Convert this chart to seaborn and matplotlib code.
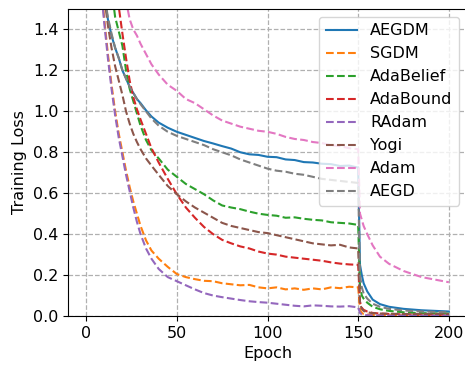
import matplotlib
matplotlib.use("Agg")
import matplotlib.pyplot as plt
import seaborn as sns
import pandas as pd

epochs = [5, 8, 10, 12, 14, 16, 18, 20, 22, 24, 26, 28, 30, 33, 36, 40, 45, 50, 55, 60,
          65, 70, 75, 80, 85, 90, 95, 100, 105, 110, 115, 120, 125, 130, 135, 140, 145, 150,
          151, 152, 153, 155, 158, 162, 167, 175, 185, 200]

aegdm = [2.3, 1.75, 1.56, 1.45, 1.37, 1.31, 1.26, 1.20, 1.16, 1.12, 1.09, 1.06, 1.04, 1.005, 0.975, 0.945, 0.92, 0.90, 0.885, 0.87,
         0.855, 0.843, 0.83, 0.818, 0.80, 0.79, 0.787, 0.778, 0.776, 0.765, 0.762, 0.752, 0.75, 0.744, 0.742, 0.733, 0.735, 0.725,
         0.25, 0.20, 0.16, 0.12, 0.08, 0.058, 0.045, 0.035, 0.028, 0.022]
sgdm = [2.2, 1.65, 1.45, 1.28, 1.13, 1.0, 0.89, 0.80, 0.71, 0.63, 0.56, 0.50, 0.44, 0.37, 0.32, 0.28, 0.24, 0.205, 0.19, 0.18,
        0.172, 0.17, 0.16, 0.155, 0.15, 0.152, 0.14, 0.135, 0.14, 0.13, 0.135, 0.128, 0.135, 0.13, 0.14, 0.136, 0.143, 0.14,
        0.03, 0.015, 0.01, 0.007, 0.005, 0.004, 0.003, 0.003, 0.003, 0.003]
adabelief = [3.0, 2.2, 1.95, 1.78, 1.6, 1.46, 1.39, 1.32, 1.2, 1.11, 1.05, 0.99, 0.93, 0.86, 0.81, 0.77, 0.715, 0.68, 0.645, 0.62,
             0.595, 0.565, 0.54, 0.53, 0.522, 0.51, 0.50, 0.494, 0.49, 0.48, 0.482, 0.475, 0.47, 0.467, 0.458, 0.455, 0.452, 0.445,
             0.15, 0.10, 0.085, 0.065, 0.045, 0.033, 0.025, 0.018, 0.014, 0.012]
adabound = [3.2, 2.4, 2.1, 1.9, 1.75, 1.62, 1.51, 1.38, 1.26, 1.15, 1.07, 1.01, 0.96, 0.89, 0.82, 0.75, 0.67, 0.595, 0.53, 0.48,
            0.435, 0.40, 0.372, 0.355, 0.34, 0.33, 0.315, 0.305, 0.30, 0.29, 0.285, 0.28, 0.275, 0.27, 0.262, 0.256, 0.252, 0.25,
            0.07, 0.04, 0.03, 0.022, 0.015, 0.012, 0.01, 0.008, 0.007, 0.006]
radam = [2.2, 1.62, 1.43, 1.26, 1.11, 0.98, 0.87, 0.78, 0.69, 0.61, 0.53, 0.46, 0.40, 0.33, 0.28, 0.23, 0.19, 0.17, 0.15, 0.13,
         0.112, 0.10, 0.092, 0.085, 0.078, 0.072, 0.068, 0.065, 0.06, 0.055, 0.05, 0.047, 0.052, 0.05, 0.047, 0.046, 0.048, 0.042,
         0.015, 0.008, 0.006, 0.004, 0.003, 0.003, 0.002, 0.002, 0.002, 0.002]
yogi = [2.2, 1.72, 1.56, 1.42, 1.31, 1.22, 1.15, 1.08, 1.0, 0.94, 0.89, 0.85, 0.815, 0.77, 0.735, 0.69, 0.635, 0.595, 0.56, 0.53,
        0.505, 0.48, 0.455, 0.44, 0.43, 0.42, 0.41, 0.405, 0.395, 0.385, 0.375, 0.365, 0.355, 0.35, 0.345, 0.348, 0.335, 0.33,
        0.06, 0.035, 0.025, 0.018, 0.014, 0.012, 0.011, 0.01, 0.01, 0.01]
adam = [4.0, 3.0, 2.6, 2.3, 2.1, 1.95, 1.8, 1.66, 1.54, 1.45, 1.40, 1.37, 1.33, 1.28, 1.23, 1.18, 1.13, 1.10, 1.06, 1.04,
        1.01, 0.98, 0.955, 0.94, 0.925, 0.915, 0.905, 0.90, 0.89, 0.875, 0.865, 0.86, 0.85, 0.845, 0.835, 0.83, 0.82, 0.815,
        0.50, 0.47, 0.44, 0.40, 0.345, 0.29, 0.255, 0.22, 0.19, 0.165]
aegd = [2.3, 1.75, 1.57, 1.46, 1.38, 1.31, 1.26, 1.20, 1.16, 1.12, 1.09, 1.06, 1.035, 1.0, 0.965, 0.93, 0.90, 0.88, 0.865, 0.85,
        0.835, 0.815, 0.80, 0.785, 0.765, 0.75, 0.735, 0.72, 0.71, 0.705, 0.695, 0.69, 0.68, 0.67, 0.665, 0.66, 0.655, 0.65,
        0.2, 0.14, 0.11, 0.085, 0.06, 0.045, 0.035, 0.027, 0.022, 0.018]

names = ["AEGDM", "SGDM", "AdaBelief", "AdaBound", "RAdam", "Yogi", "Adam", "AEGD"]
series = [aegdm, sgdm, adabelief, adabound, radam, yogi, adam, aegd]
x_ticks = [0, 50, 100, 150, 200]
y_ticks = [0.0, 0.2, 0.4, 0.6, 0.8, 1.0, 1.2, 1.4]

colors = sns.color_palette("tab10", 8)

fig = plt.figure(figsize=(4.65, 3.69), dpi=100)
ax = fig.add_axes([68 / 465, 53 / 369, 399 / 465, 307 / 369])

for i, (name, vals) in enumerate(zip(names, series)):
    df = pd.DataFrame({"Epoch": epochs, "Loss": vals})
    sns.lineplot(data=df, x="Epoch", y="Loss", ax=ax, label=name, color=colors[i],
                 linestyle="-" if i == 0 else "--", linewidth=1.5)

ax.set_xlim(-10, 210)
ax.set_ylim(0, 1.5)
ax.set_xticks(x_ticks)
ax.set_yticks(y_ticks)
ax.set_yticklabels([f"{v:.1f}" for v in y_ticks])
ax.tick_params(labelsize=11.5)
ax.set_xlabel("Epoch", fontsize=11.5)
ax.set_ylabel("Training Loss", fontsize=11.5)
ax.grid(True, linestyle="--", color="#b0b0b0", linewidth=0.9)
ax.legend(loc="upper right", fontsize=11.5)

fig.savefig("out.png", dpi=100)
